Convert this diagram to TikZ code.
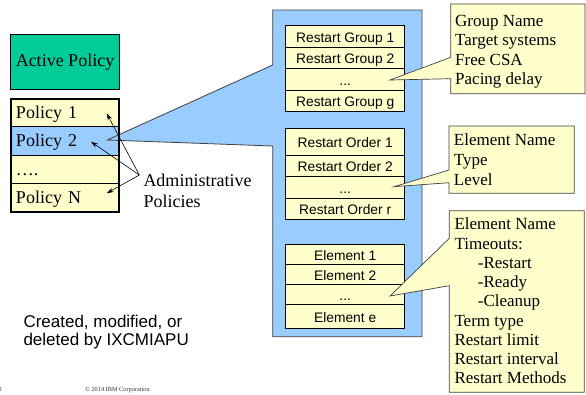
\documentclass[tikz,border=0pt]{standalone}
\usepackage{fontspec}
\setmainfont{Liberation Serif}
\setsansfont{Liberation Sans}
\usetikzlibrary{arrows.meta}
\definecolor{actgreen}{HTML}{00CC99}
\definecolor{paleyel}{HTML}{FFFFCC}
\definecolor{skyblue}{HTML}{99CCFF}
\definecolor{edgegray}{HTML}{404040}
\tikzset{
  polrow/.style={draw=black, line width=0.8pt, fill=paleyel, inner xsep=5.3pt, inner ysep=0pt,
    text width=98pt, align=left, text height=12pt, text depth=0pt,
    font=\fontsize{18}{20}\selectfont, anchor=north west, outer sep=0pt},
  rowbox/.style={draw=black, line width=0.7pt, fill=paleyel, inner sep=0pt, minimum width=119pt,
    text height=11.6pt, text depth=0pt, font=\sffamily\fontsize{13.8}{15}\selectfont, outer sep=0pt},
  calltext/.style={anchor=base west, inner sep=0pt, font=\fontsize{17}{19}\selectfont},
  callout/.style={fill=paleyel, draw=edgegray, line width=0.7pt, line join=miter},
  admarrow/.style={-{Stealth[length=7pt,width=4.5pt]}, line width=0.6pt}
}
\begin{document}
\begin{tikzpicture}[x=1pt,y=-1pt]
\useasboundingbox (0,0) rectangle (586,394);

% Active policy
\node[draw=black, line width=0.8pt, fill=actgreen, minimum width=108.6pt, minimum height=55pt,
  inner sep=0pt, font=\fontsize{18}{20}\selectfont] (active) at (65,61.8) {Active Policy};

% Policy list
\node[polrow, minimum height=28pt] (p1) at (10.7,98.7) {Policy 1};
\node[polrow, minimum height=28.3pt, fill=skyblue] (p2) at (10.7,126.7) {Policy 2};
\node[polrow, minimum height=28.7pt] (pd) at (10.7,155) {\dots.};
\node[polrow, minimum height=28.3pt] (pn) at (10.7,183.7) {Policy N};

% Blue callout panel
\coordinate (tip) at (107.3,140);
\coordinate (pu) at (272.7,65);
\coordinate (pl) at (272.7,146);
\filldraw[fill=skyblue, draw=edgegray, line width=0.8pt, line join=miter]
  (tip) -- (pu) -- (272.7,10) -- (422,10) -- (422,336.7) -- (272.7,336.7) -- (pl) -- cycle;

% outer thick border of policy list
\draw[line width=2pt] (10.7,98.7) rectangle (119.3,212);

% Restart groups
\node[rowbox, minimum height=22pt] (rg1) at (345.2,36.3) {Restart Group 1};
\node[rowbox, minimum height=21.4pt] (rg2) at (345.2,58) {Restart Group 2};
\node[rowbox, minimum height=21.3pt] (rgd) at (345.2,79.3) {...};
\node[rowbox, minimum height=21pt] (rgg) at (345.2,100.5) {Restart Group g};

% Restart orders
\node[rowbox, minimum height=26.7pt] (ro1) at (345.2,141.7) {Restart Order 1};
\node[rowbox, minimum height=21.7pt] (ro2) at (345.2,165.8) {Restart Order 2};
\node[rowbox, minimum height=21.6pt] (rod) at (345.2,187.5) {...};
\node[rowbox, minimum height=21pt] (ror) at (345.2,208.8) {Restart Order r};

% Elements
\node[rowbox, minimum height=20.3pt] (e1) at (345.2,254.2) {Element 1};
\node[rowbox, minimum height=20pt] (e2) at (345.2,274.3) {Element 2};
\node[rowbox, minimum height=20pt] (ed) at (345.2,294.3) {...};
\node[rowbox, minimum height=23.7pt] (ee) at (345.2,316.2) {Element e};

% Callout 1
\coordinate (c1tip) at (390,80);
\draw[callout] (450.7,4) -- (585,4) -- (585,93.7) -- (450.7,93.7) -- (450.7,78.7) -- (c1tip) -- (450.7,57.3) -- cycle;
\node[calltext] (c1a) at (455,26.5) {Group Name};
\node[calltext] (c1b) at (455,45.5) {Target systems};
\node[calltext] (c1c) at (455,65.5) {Free CSA};
\node[calltext] (c1d) at (455,84.5) {Pacing delay};

% Callout 2
\coordinate (c2tip) at (394,186.7);
\draw[callout] (449,126) -- (574.3,126) -- (574.3,193.3) -- (449,193.3) -- (449,182.7) -- (c2tip) -- (449,170) -- cycle;
\node[calltext] (c2a) at (453.7,145.5) {Element Name};
\node[calltext] (c2b) at (453.7,165.5) {Type};
\node[calltext] (c2c) at (453.7,185.5) {Level};

% Callout 3
\coordinate (c3tip) at (390,296);
\draw[callout] (449.3,210.7) -- (584.3,210.7) -- (584.3,392.3) -- (449.3,392.3) -- (449.3,285.7) -- (c3tip) -- (449.3,238.3) -- cycle;
\node[calltext] (c3a) at (454.3,229.8) {Element Name};
\node[calltext] (c3b) at (454.3,249.05) {Timeouts:};
\node[calltext] (c3c) at (477.7,268.3) {-Restart};
\node[calltext] (c3d) at (477.7,287.55) {-Ready};
\node[calltext] (c3e) at (477.7,306.8) {-Cleanup};
\node[calltext] (c3f) at (454.3,326.05) {Term type};
\node[calltext] (c3g) at (454.3,345.3) {Restart limit};
\node[calltext] (c3h) at (454.3,364.55) {Restart interval};
\node[calltext] (c3i) at (454.3,383.8) {Restart Methods};

% Administrative policies
\node[anchor=base west, inner sep=0pt, font=\fontsize{18}{20}\selectfont] (adm1) at (143.3,186.5) {Administrative};
\node[anchor=base west, inner sep=0pt, font=\fontsize{18}{20}\selectfont] (adm2) at (143.3,207) {Policies};
\coordinate (admsrc) at (139.3,175);
\coordinate (a1) at (106.7,113.3);
\coordinate (a2) at (91,141.7);
\coordinate (a3) at (106.7,193.3);
\draw[admarrow] (admsrc) -- (a1);
\draw[admarrow] (admsrc) -- (a2);
\draw[admarrow] (admsrc) -- (a3);

% Created text
\node[anchor=base west, inner sep=0pt, font=\sffamily\fontsize{17}{19}\selectfont] (cr1) at (23.3,327.3) {Created, modified, or};
\node[anchor=base west, inner sep=0pt, font=\sffamily\fontsize{17}{19}\selectfont] (cr2) at (23.3,345) {deleted by IXCMIAPU};

% Footer
\node[anchor=base west, inner sep=0pt, font=\fontsize{6}{7}\selectfont, text=black!80] (pg) at (-1.5,391) {8};
\node[anchor=base west, inner sep=0pt, font=\fontsize{6.3}{7}\selectfont, text=black!80] (copy) at (85,391) {© 2014 IBM Corporation};
\end{tikzpicture}
\end{document}
